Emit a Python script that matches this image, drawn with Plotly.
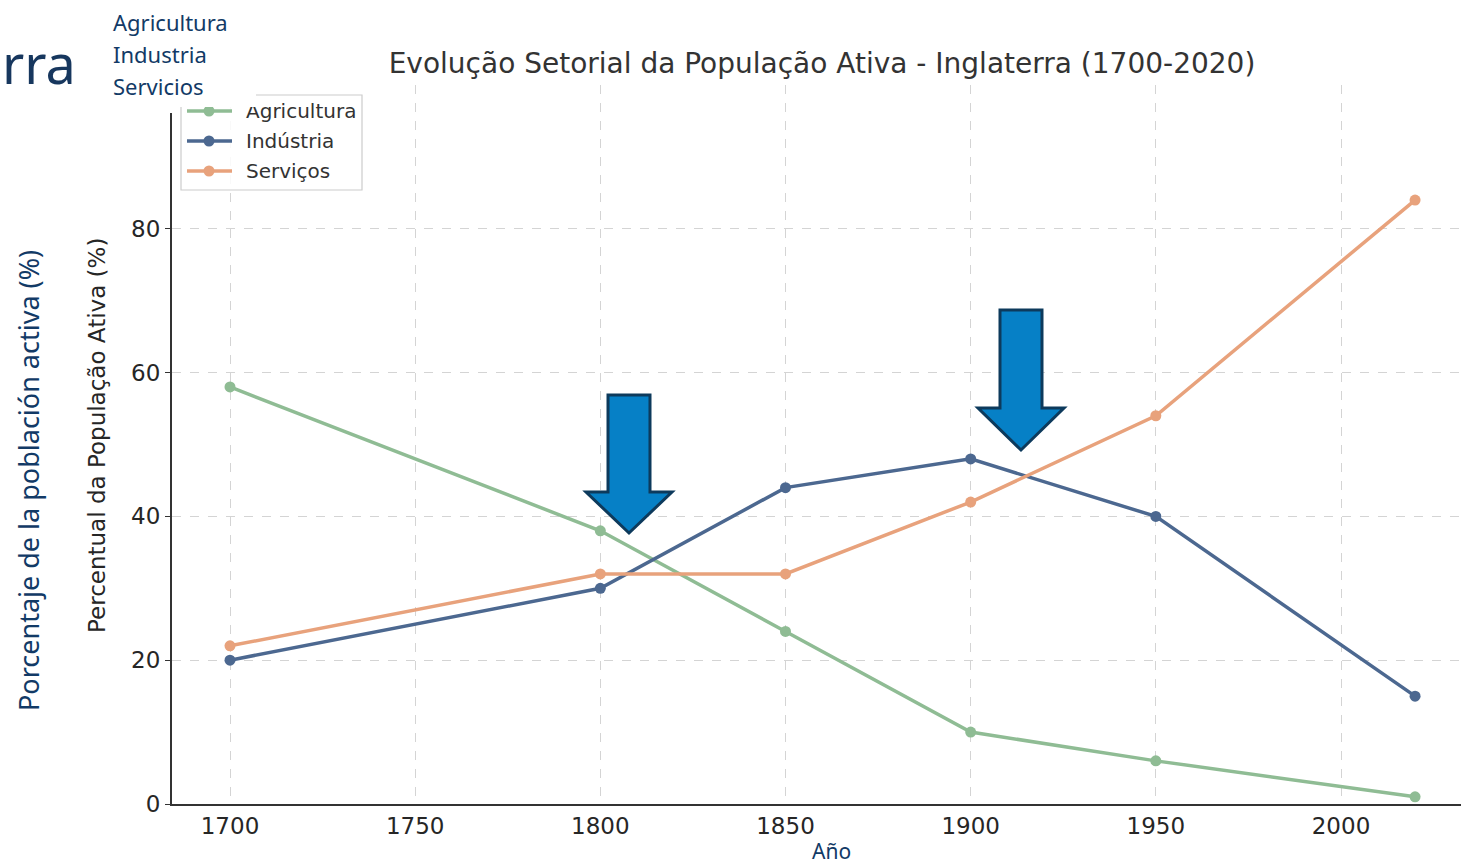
import plotly.graph_objects as go

years = [1700, 1800, 1850, 1900, 1950, 2020]
agricultura = [58, 38, 24, 10, 6, 1]
industria = [20, 30, 44, 48, 40, 15]
servicos = [22, 32, 32, 42, 54, 84]
series_names = ["Agricultura", "Indústria", "Serviços"]
series_colors = ["#8fbc94", "#4c6890", "#e8a27c"]
x_ticks = [1700, 1750, 1800, 1850, 1900, 1950, 2000]
y_ticks = [0, 20, 40, 60, 80, 100]
y_ticklabels = ["0", "20", "40", "60", "80", ""]
overlay_words = ["Agricultura", "Industria", "Servicios"]

W, H = 1461, 865
L, T = 172, 85
PLOT_R, PLOT_B = W, 804
R, B = W - PLOT_R, H - PLOT_B
PW, PH = PLOT_R - L, PLOT_B - T


def px(x):
    return (x - L) / PW


def py(y):
    return (PLOT_B - y) / PH


fig = go.Figure()
for name, vals, col in zip(series_names, [agricultura, industria, servicos], series_colors):
    fig.add_trace(go.Scatter(x=years, y=vals, mode="lines+markers", name=name,
                             line=dict(color=col, width=3.5),
                             marker=dict(color=col, size=11), showlegend=False,
                             cliponaxis=False))

shapes = []
annotations = []

navy = "#0d3a5c"
fillblue = "#0680c6"
for (sl, sr, top, hb, hl, hr, tx, ty) in [(608, 650, 395, 492, 586, 672, 629, 533),
                                          (1000, 1042, 310, 408, 978, 1064, 1021, 450)]:
    pts = [(sl, top), (sr, top), (sr, hb), (hr, hb), (tx, ty), (hl, hb), (sl, hb)]
    path = "M " + " L ".join(f"{px(a):.5f},{py(b):.5f}" for a, b in pts) + " Z"
    shapes.append(dict(type="path", xref="paper", yref="paper", path=path,
                       fillcolor=fillblue, line=dict(color=navy, width=3), layer="above"))

shapes.append(dict(type="rect", xref="paper", yref="paper", x0=px(181), x1=px(362),
                   y0=py(190), y1=py(95), fillcolor="rgba(255,255,255,0.85)",
                   line=dict(color="#cccccc", width=1.2), layer="above"))
for i, (name, col) in enumerate(zip(series_names, series_colors)):
    yy = 111 + 30 * i
    shapes.append(dict(type="line", xref="paper", yref="paper", x0=px(187), x1=px(232),
                       y0=py(yy), y1=py(yy), line=dict(color=col, width=3.5), layer="above"))
    shapes.append(dict(type="circle", xref="paper", yref="paper", x0=px(203.5), x1=px(214.5),
                       y0=py(yy + 5.5), y1=py(yy - 5.5), fillcolor=col, line=dict(color=col, width=0),
                       layer="above"))
    annotations.append(dict(xref="paper", yref="paper", x=px(244), y=py(yy), text=name,
                            showarrow=False, xanchor="left", yanchor="middle",
                            font=dict(family="DejaVu Sans", size=20, color="#333333")))

# white slide overlay covering the top-left corner of the chart
annotations.append(dict(xref="paper", yref="paper", x=px(0), y=py(0), text=" ",
                        showarrow=False, xanchor="left", yanchor="top", width=256,
                        height=107, bgcolor="white", borderpad=0, borderwidth=0))
annotations.append(dict(xref="paper", yref="paper", x=px(0), y=py(0), text=" ",
                        showarrow=False, xanchor="left", yanchor="top", width=178,
                        height=113, bgcolor="white", borderpad=0, borderwidth=0))

navytext = "#123a66"
for i, w in enumerate(overlay_words):
    annotations.append(dict(xref="paper", yref="paper", x=px(111), y=py(22 + 32 * i), text=w,
                            showarrow=False, xanchor="left", yanchor="middle",
                            font=dict(family="Noto Sans", size=22, color=navytext)))

annotations.append(dict(xref="paper", yref="paper", x=px(0), y=py(63), text="rra",
                        showarrow=False, xanchor="left", yanchor="middle",
                        font=dict(family="Noto Sans", size=54, color="#17375e")))

annotations.append(dict(xref="paper", yref="paper", x=px(28), y=py(481),
                        text="Porcentaje de la población activa (%)", textangle=-90,
                        showarrow=False, xanchor="center", yanchor="middle",
                        font=dict(family="Noto Sans", size=27, color=navytext)))
annotations.append(dict(xref="paper", yref="paper", x=px(97), y=py(436),
                        text="Percentual da População Ativa (%)", textangle=-90,
                        showarrow=False, xanchor="center", yanchor="middle",
                        font=dict(family="DejaVu Sans", size=23, color="#262626")))
annotations.append(dict(xref="paper", yref="paper", x=px(832), y=py(851), text="Año",
                        showarrow=False, xanchor="center", yanchor="middle",
                        font=dict(family="Noto Sans", size=21, color=navytext)))

px_per_year = 1111 / 300
x_left = 1700 - (230 - L) / px_per_year
x_right = 1700 + (PLOT_R - 230) / px_per_year

fig.update_layout(
    width=W, height=H,
    margin=dict(l=L, r=R, t=T, b=B, autoexpand=False),
    paper_bgcolor="white", plot_bgcolor="white",
    title=dict(text="Evolução Setorial da População Ativa - Inglaterra (1700-2020)",
               x=822 / W, xanchor="center", y=1 - 63 / H, yanchor="middle",
               font=dict(family="DejaVu Sans", size=28, color="#333333")),
    shapes=shapes, annotations=annotations,
    xaxis=dict(range=[x_left, x_right], tickvals=x_ticks, showgrid=True,
               gridcolor="#d4d4d4", griddash="dash", gridwidth=1,
               showline=True, linecolor="#333333", linewidth=2, zeroline=False,
               ticks="", tickfont=dict(family="DejaVu Sans", size=23, color="#262626"),
               automargin=False),
    yaxis=dict(range=[0, 100], tickvals=y_ticks, ticktext=y_ticklabels, showgrid=True,
               gridcolor="#d4d4d4", griddash="dash", gridwidth=1,
               showline=True, linecolor="#333333", linewidth=2, zeroline=False,
               ticks="outside", ticklen=5, tickcolor="#333333",
               tickfont=dict(family="DejaVu Sans", size=23, color="#262626"),
               automargin=False),
)

fig.write_html("out.html", default_width="1461px", default_height="865px",
               config={"displayModeBar": False},
               post_script="document.body.style.margin='0';document.body.style.overflow='hidden';")
